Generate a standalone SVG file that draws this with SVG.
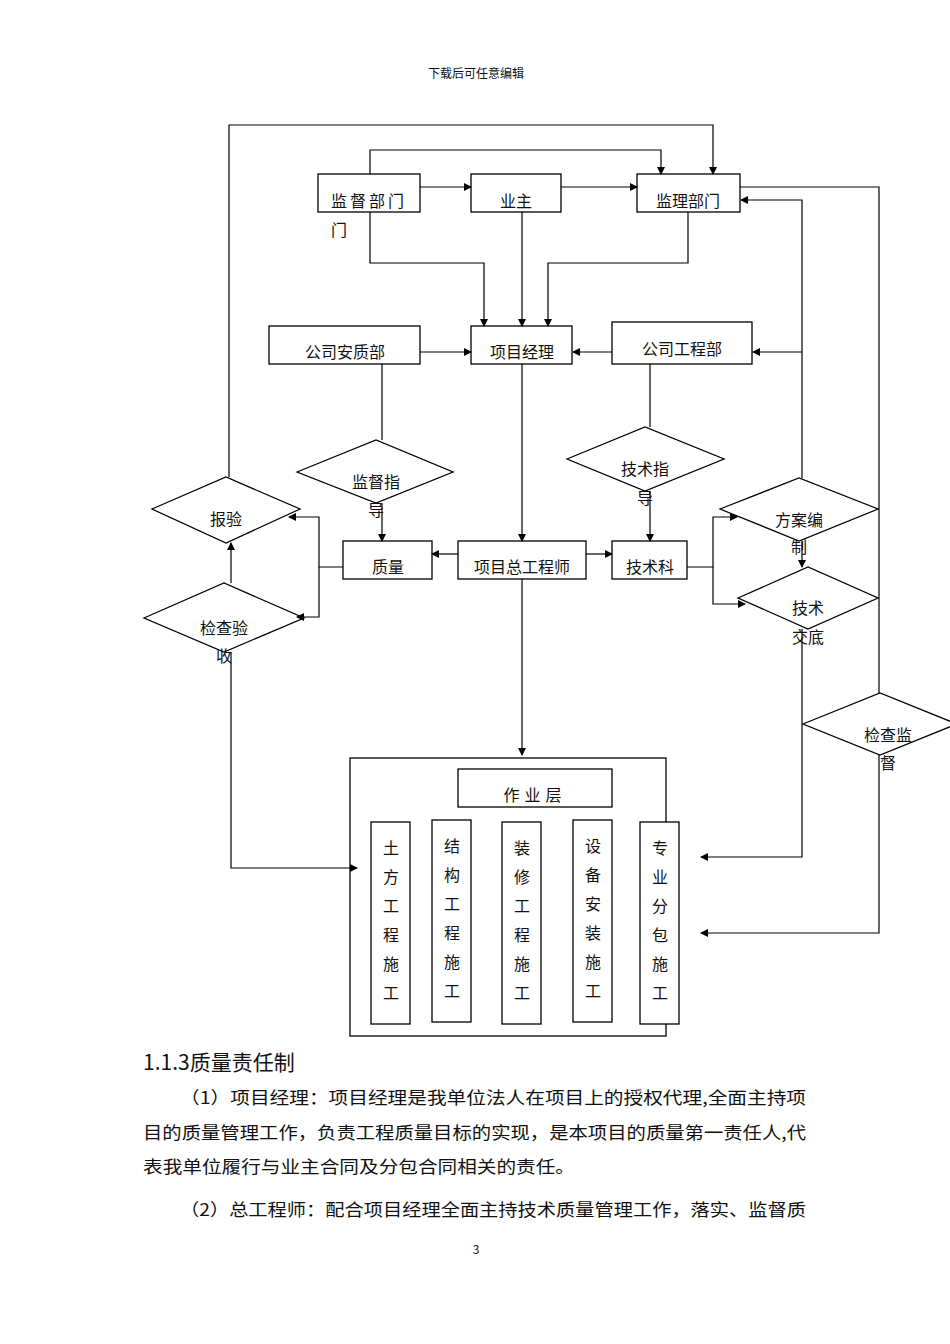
<svg xmlns="http://www.w3.org/2000/svg" width="950" height="1344" viewBox="0 0 950 1344">
<style>
.b{fill:#fff;stroke:#000;stroke-width:1.3}
.l{fill:none;stroke:#000;stroke-width:1.2}
text{font-family:"Noto Sans CJK SC","Liberation Sans",sans-serif;font-size:16px;fill:#111}
.m{text-anchor:middle}
.p{font-family:"Noto Sans CJK SC","Liberation Serif",serif;font-size:17px}
</style>
<defs><marker id="a" markerWidth="8" markerHeight="8" refX="7" refY="4" orient="auto" markerUnits="userSpaceOnUse"><path d="M0,0L8,4L0,8z" fill="#000"/></marker></defs>
<rect width="950" height="1344" fill="#fff"/>
<text x="476" y="78" class="m" style="font-size:12px">下载后可任意编辑</text>
<g id="n1"><rect class="b" x="318" y="174" width="102" height="38"/><text x="369" y="207" class="m" letter-spacing="3">监督部门</text><text x="331" y="236">门</text></g>
<g id="n2"><rect class="b" x="471" y="174" width="90" height="38"/><text x="516" y="207" class="m">业主</text></g>
<g id="n3"><rect class="b" x="637" y="174" width="103" height="38"/><text x="688" y="207" class="m">监理部门</text></g>
<g id="n4"><rect class="b" x="269" y="326" width="151" height="38"/><text x="345" y="358" class="m">公司安质部</text></g>
<g id="n5"><rect class="b" x="471" y="326" width="101" height="38"/><text x="522" y="358" class="m">项目经理</text></g>
<g id="n6"><rect class="b" x="612" y="322" width="140" height="42"/><text x="682" y="355" class="m">公司工程部</text></g>
<g id="d1"><polygon class="b" points="297,472 376,440 453,472 376,503"/><text x="376" y="488" class="m">监督指</text><text x="376" y="516" class="m">导</text></g>
<g id="d2"><polygon class="b" points="567,459 645,427 724,459 645,491"/><text x="645" y="475" class="m">技术指</text><text x="645" y="504" class="m">导</text></g>
<g id="d3"><polygon class="b" points="152,509 226,477 300,509 226,543"/><text x="226" y="525" class="m">报验</text></g>
<g id="d4"><polygon class="b" points="144,618 224,583 304,618 224,652"/><text x="224" y="634" class="m">检查验</text><text x="224" y="662" class="m">收</text></g>
<g id="d5"><polygon class="b" points="720,509 799,478 878,509 799,541"/><text x="799" y="526" class="m">方案编</text><text x="799" y="553" class="m">制</text></g>
<g id="d6"><polygon class="b" points="738,598 808,567 878,598 808,629"/><text x="808" y="614" class="m">技术</text><text x="808" y="643" class="m">交底</text></g>
<g id="d7"><polygon class="b" points="803,724 880,693 957,724 880,755"/><text x="888" y="741" class="m">检查监</text><text x="888" y="769" class="m">督</text></g>
<g id="n7"><rect class="b" x="343" y="541" width="89" height="38"/><text x="388" y="573" class="m">质量</text></g>
<g id="n8"><rect class="b" x="458" y="541" width="128" height="38"/><text x="522" y="573" class="m">项目总工程师</text></g>
<g id="n9"><rect class="b" x="612" y="541" width="75" height="38"/><text x="650" y="573" class="m">技术科</text></g>
<g id="n10"><rect class="b" x="350" y="758" width="316" height="278"/>
<rect class="b" x="458" y="769" width="154" height="38"/><text x="535" y="801" class="m" letter-spacing="5">作业层</text></g>
<g id="c1"><rect class="b" x="371" y="822" width="39" height="202"/><text class="m" x="391" y="854">土</text><text class="m" x="391" y="883">方</text><text class="m" x="391" y="912">工</text><text class="m" x="391" y="941">程</text><text class="m" x="391" y="970">施</text><text class="m" x="391" y="999">工</text></g>
<g id="c2"><rect class="b" x="432" y="820" width="39" height="202"/><text class="m" x="452" y="852">结</text><text class="m" x="452" y="881">构</text><text class="m" x="452" y="910">工</text><text class="m" x="452" y="939">程</text><text class="m" x="452" y="968">施</text><text class="m" x="452" y="997">工</text></g>
<g id="c3"><rect class="b" x="502" y="822" width="39" height="202"/><text class="m" x="522" y="854">装</text><text class="m" x="522" y="883">修</text><text class="m" x="522" y="912">工</text><text class="m" x="522" y="941">程</text><text class="m" x="522" y="970">施</text><text class="m" x="522" y="999">工</text></g>
<g id="c4"><rect class="b" x="573" y="820" width="39" height="202"/><text class="m" x="593" y="852">设</text><text class="m" x="593" y="881">备</text><text class="m" x="593" y="910">安</text><text class="m" x="593" y="939">装</text><text class="m" x="593" y="968">施</text><text class="m" x="593" y="997">工</text></g>
<g id="c5"><rect class="b" x="640" y="822" width="39" height="202"/><text class="m" x="660" y="854">专</text><text class="m" x="660" y="883">业</text><text class="m" x="660" y="912">分</text><text class="m" x="660" y="941">包</text><text class="m" x="660" y="970">施</text><text class="m" x="660" y="999">工</text></g>
<g id="connectors">
<path class="l" d="M229,477V125H713V174" marker-end="url(#a)"/>
<path class="l" d="M370,174V150H661V174" marker-end="url(#a)"/>
<path class="l" d="M420,187H471" marker-end="url(#a)"/>
<path class="l" d="M561,187H637" marker-end="url(#a)"/>
<path class="l" d="M740,187H879V693"/>
<path class="l" d="M879,755V933H701" marker-end="url(#a)"/>
<path class="l" d="M802,478V200H741" marker-end="url(#a)"/>
<path class="l" d="M802,352H753" marker-end="url(#a)"/>
<path class="l" d="M370,212V263H484V326" marker-end="url(#a)"/>
<path class="l" d="M522,212V326" marker-end="url(#a)"/>
<path class="l" d="M688,212V263H548V326" marker-end="url(#a)"/>
<path class="l" d="M420,352H471" marker-end="url(#a)"/>
<path class="l" d="M612,352H573" marker-end="url(#a)"/>
<path class="l" d="M382,364V440"/>
<path class="l" d="M382,503V541" marker-end="url(#a)"/>
<path class="l" d="M650,364V427"/>
<path class="l" d="M650,491V541" marker-end="url(#a)"/>
<path class="l" d="M522,364V541" marker-end="url(#a)"/>
<path class="l" d="M458,554H432" marker-end="url(#a)"/>
<path class="l" d="M586,554H612" marker-end="url(#a)"/>
<path class="l" d="M343,567H319V517H289" marker-end="url(#a)"/>
<path class="l" d="M319,567V617H297" marker-end="url(#a)"/>
<path class="l" d="M687,567H713V517H737" marker-end="url(#a)"/>
<path class="l" d="M713,567V604H745" marker-end="url(#a)"/>
<path class="l" d="M802,541V567" marker-end="url(#a)"/>
<path class="l" d="M231,583V543" marker-end="url(#a)"/>
<path class="l" d="M802,629V857H701" marker-end="url(#a)"/>
<path class="l" d="M231,652V868H357" marker-end="url(#a)"/>
<path class="l" d="M522,579V755" marker-end="url(#a)"/>
</g>
<text x="143" y="1070" class="p" style="font-size:21px">1.1.3质量责任制</text>
<text x="180" y="1104" class="p" textLength="626" lengthAdjust="spacingAndGlyphs">（1）项目经理：项目经理是我单位法人在项目上的授权代理,全面主持项</text>
<text x="143" y="1139" class="p" textLength="663" lengthAdjust="spacingAndGlyphs">目的质量管理工作，负责工程质量目标的实现，是本项目的质量第一责任人,代</text>
<text x="143" y="1173" class="p" textLength="432" lengthAdjust="spacingAndGlyphs">表我单位履行与业主合同及分包合同相关的责任。</text>
<text x="180" y="1216" class="p" textLength="626" lengthAdjust="spacingAndGlyphs">（2）总工程师：配合项目经理全面主持技术质量管理工作，落实、监督质</text>
<text x="476" y="1254" class="m" style="font-size:12px">3</text>
</svg>
